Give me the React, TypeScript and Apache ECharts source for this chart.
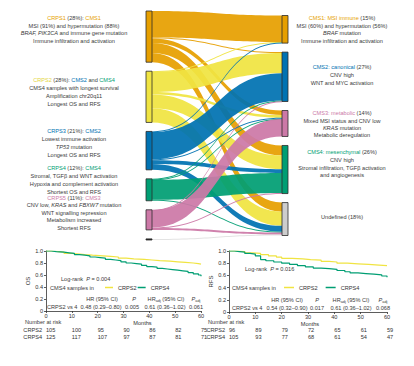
import React, { useEffect, useRef } from "react";
import * as echarts from "echarts";

// ---------- palette ----------
const C = {
  orange: "#E69F00",
  yellow: "#F0E442",
  yellowText: "#E3D53E",
  blue: "#0072B2",
  green: "#009E73",
  pink: "#CC79A7",
  grey: "#CDCDCD",
  dark: "#333333",
};
const FONT = "'Liberation Sans', Arial, Helvetica, sans-serif";
const FS = 5.6;
const TXT = "#3a3a3a";

// ---------- sankey data ----------
const crpsNames = ["CRPS1", "CRPS2", "CRPS3", "CRPS4", "CRPS5", "NA"];
const crpsColors = [C.orange, C.yellow, C.blue, C.green, C.pink, "#222222"];
const cmsNames = ["CMS1", "CMS2", "CMS3", "CMS4", "Undefined"];
const cmsColors = [C.orange, C.blue, C.pink, C.green, C.grey];
// % of samples flowing from each CRPS to CMS1, CMS2, CMS3, CMS4, Undefined
const flowCRPS1 = [14.5, 0.5, 2.5, 5.5, 5.0];
const flowCRPS2 = [0.3, 11.0, 1.5, 7.5, 7.7];
const flowCRPS3 = [0.3, 15.0, 0.5, 2.0, 3.2];
const flowCRPS4 = [0, 0.3, 0.2, 11.0, 0.5];
const flowCRPS5 = [0, 0.2, 9.5, 0.3, 1.0];
const flowNA = [0, 0, 0, 0, 0.6];

// ---------- survival data ----------
const osCRPS2 = [[0,1],[2,0.99],[5,0.98],[7,0.96],[10,0.95],[13,0.94],[15,0.93],[18,0.92],[22,0.91],[25,0.9],[28,0.88],[31,0.87],[34,0.86],[38,0.85],[41,0.84],[44,0.83],[48,0.82],[51,0.81],[54,0.8],[57,0.79],[59,0.78],[60,0.77]];
const osCRPS4 = [[0,1],[2,0.99],[4,0.98],[7,0.97],[9,0.96],[11,0.94],[13,0.93],[15,0.92],[17,0.9],[19,0.89],[21,0.88],[23,0.86],[25,0.85],[27,0.84],[29,0.82],[31,0.8],[33,0.79],[35,0.78],[37,0.76],[39,0.74],[41,0.73],[43,0.71],[45,0.7],[47,0.69],[49,0.68],[51,0.67],[53,0.66],[55,0.64],[57,0.62],[59,0.6],[60,0.58]];
const rfsCRPS2 = [[0,1],[3,0.99],[6,0.97],[9,0.96],[12,0.94],[15,0.92],[18,0.9],[20,0.88],[24,0.87],[28,0.86],[31,0.85],[35,0.83],[38,0.82],[41,0.8],[45,0.79],[49,0.78],[53,0.77],[57,0.76],[60,0.75]];
const rfsCRPS4 = [[0,1],[2,0.99],[4,0.98],[6,0.96],[8,0.95],[10,0.92],[12,0.86],[14,0.84],[17,0.82],[20,0.8],[23,0.78],[26,0.76],[29,0.74],[32,0.72],[35,0.71],[38,0.7],[41,0.68],[44,0.66],[46,0.64],[49,0.63],[52,0.62],[55,0.61],[58,0.59],[60,0.57]];

const riskOS_CRPS2 = [105, 100, 95, 90, 86, 82, 75];
const riskOS_CRPS4 = [125, 117, 107, 97, 87, 81, 71];
const riskRFS_CRPS2 = [96, 89, 79, 72, 65, 61, 59];
const riskRFS_CRPS4 = [105, 93, 77, 68, 61, 54, 47];

const hrRowOS = ["CRPS2 vs 4", "0.48 (0.29–0.80)", "0.005", "0.61 (0.36–1.02)", "0.061"];
const hrRowRFS = ["CRPS2 vs 4", "0.54 (0.32–0.90)", "0.017", "0.61 (0.36–1.02)", "0.068"];
const logrankOS = "0.004";
const logrankRFS = "0.016";

// ---------- sankey build ----------
const SK_TOP = 11, SK_H = 229, SK_LEFT = 146, SK_W = 142, GAP = 9;
const flows = [flowCRPS1, flowCRPS2, flowCRPS3, flowCRPS4, flowCRPS5, flowNA];
const sum = (a: number[]) => a.reduce((s, v) => s + v, 0);
const leftTotals = flows.map((r) => sum(r));
const rightTotals = cmsNames.map((_, j) => sum(flows.map((r) => r[j])));
const total = sum(leftTotals);
const ky = (SK_H - (crpsNames.length - 1) * GAP) / total;
const rightH = total * ky + (cmsNames.length - 1) * GAP;
let acc = (SK_H - rightH) / 2;
const rightLocalY = rightTotals.map((v) => {
  const y = acc;
  acc += v * ky + GAP;
  return y / SK_H;
});

const sankeyNodes = [
  ...crpsNames.map((n, i) => ({ name: n, itemStyle: { color: crpsColors[i] } })),
  ...cmsNames.map((n, i) => ({ name: n, localY: rightLocalY[i], itemStyle: { color: cmsColors[i] } })),
];
const sankeyLinks: any[] = [];
flows.forEach((row, i) => {
  row.forEach((v, j) => {
    if (v > 0) {
      sankeyLinks.push({
        source: crpsNames[i],
        target: cmsNames[j],
        value: v,
        lineStyle: i === 5 ? { color: "#d0d0d0", opacity: 0.6 } : { color: crpsColors[i], opacity: 0.93 },
      });
    }
  });
});

// ---------- text helpers ----------
const tok = (fill: string, extra: any = {}) => ({ fill, fontSize: FS, fontFamily: FONT, ...extra });
const rich = {
  o: tok(C.orange),
  y: tok(C.yellowText),
  b: tok(C.blue),
  g: tok(C.green),
  p: tok(C.pink),
  i: tok(TXT, { fontStyle: "italic" }),
  s: tok(TXT, { fontSize: 3.8, verticalAlign: "bottom", lineHeight: 7 }),
};
const txt = (x: number, y: number, text: string, align: string = "center") => ({
  type: "text",
  x,
  y,
  silent: true,
  style: {
    text,
    fill: TXT,
    fontSize: FS,
    fontFamily: FONT,
    align,
    textAlign: align,
    verticalAlign: "middle",
    textVerticalAlign: "middle",
    rich,
  },
});

const LX = 74;
const RX = 342;
const annotations = [
  // left: CRPS
  txt(LX, 18, "{o|CRPS1} (28%): {o|CMS1}"),
  txt(LX, 26, "MSI (91%) and hypermutation (88%)"),
  txt(LX, 33, "{i|BRAF, PIK3CA} and immune gene mutation"),
  txt(LX, 41, "Immune infiltration and activation"),
  txt(LX, 80, "{y|CRPS2} (28%): {b|CMS2} and {g|CMS4}"),
  txt(LX, 88, "CMS4 samples with longest survival"),
  txt(LX, 96, "Amplification chr20q11"),
  txt(LX, 104, "Longest OS and RFS"),
  txt(LX, 131, "{b|CRPS3} (21%): {b|CMS2}"),
  txt(LX, 139, "Lowest immune activation"),
  txt(LX, 147, "{i|TP53} mutation"),
  txt(LX, 155, "Longest OS and RFS"),
  txt(LX, 168, "{g|CRPS4} (12%): {g|CMS4}"),
  txt(LX, 176, "Stromal, TGFβ and WNT activation"),
  txt(LX, 184, "Hypoxia and complement activation"),
  txt(LX, 192, "Shortest OS and RFS"),
  txt(LX, 198, "{p|CRPS5} (11%): {p|CMS3}"),
  txt(LX, 205, "CNV low, {i|KRAS} and {i|FBXW7} mutation"),
  txt(LX, 213, "WNT signalling repression"),
  txt(LX, 220, "Metabolism increased"),
  txt(LX, 228, "Shortest RFS"),
  // right: CMS
  txt(RX, 18, "{o|CMS1: MSI immune} (15%)"),
  txt(RX, 26, "MSI (60%) and hypermutation (56%)"),
  txt(RX, 33, "{i|BRAF} mutation"),
  txt(RX, 41, "Immune infiltration and activation"),
  txt(RX, 67, "{b|CMS2: canonical} (27%)"),
  txt(RX, 75, "CNV high"),
  txt(RX, 83, "WNT and MYC activation"),
  txt(RX, 113, "{p|CMS3: metabolic} (14%)"),
  txt(RX, 121, "Mixed MSI status and CNV low"),
  txt(RX, 128, "{i|KRAS} mutation"),
  txt(RX, 135, "Metabolic deregulation"),
  txt(RX, 152, "{g|CMS4: mesenchymal} (26%)"),
  txt(RX, 160, "CNV high"),
  txt(RX, 168, "Stromal infiltration, TGFβ activation"),
  txt(RX, 175, "and angiogenesis"),
  txt(RX, 217, "Undefined (18%)"),
  // KM OS
  txt(61, 279, "Log-rank  {i|P} = " + logrankOS, "left"),
  txt(50, 288, "CMS4 samples in", "left"),
  txt(102, 299, "HR (95% CI)"),
  txt(134, 299, "{i|P}"),
  txt(166, 299, "HR{s|adj} (95% CI)"),
  txt(196, 299, "{i|P}{s|adj}"),
  txt(47, 307, hrRowOS[0], "left"),
  txt(101, 307, hrRowOS[1]),
  txt(132, 307, hrRowOS[2]),
  txt(165, 307, hrRowOS[3]),
  txt(196, 307, hrRowOS[4]),
  txt(25, 322, "Number at risk", "left"),
  // KM RFS
  txt(245, 269, "Log-rank  {i|P} = " + logrankRFS, "left"),
  txt(232, 288, "CMS4 samples in", "left"),
  txt(287, 300, "HR (95% CI)"),
  txt(317, 300, "{i|P}"),
  txt(351, 300, "HR{s|adj} (95% CI)"),
  txt(383, 300, "{i|P}{s|adj}"),
  txt(232, 308, hrRowRFS[0], "left"),
  txt(287, 308, hrRowRFS[1]),
  txt(317, 308, hrRowRFS[2]),
  txt(351, 308, hrRowRFS[3]),
  txt(383, 308, hrRowRFS[4]),
  txt(208, 322, "Number at risk", "left"),
];

// ---------- axes ----------
const lblStyle = { fontSize: FS, color: "#333", fontFamily: FONT };
const lineAx = { show: true, lineStyle: { color: "#333", width: 0.8 } };
const tickAx = { show: true, length: 2, lineStyle: { color: "#333", width: 0.8 } };

const mainX = (grid: number, padLeft: number, gap: number) => ({
  gridIndex: grid,
  type: "value",
  position: "bottom",
  min: 0,
  max: 60,
  interval: 10,
  axisLine: lineAx,
  axisTick: tickAx,
  splitLine: { show: false },
  axisLabel: { ...lblStyle, margin: 2 },
  name: "Months",
  nameLocation: "middle",
  nameGap: gap,
  nameTextStyle: { ...lblStyle, padding: [0, 0, 0, padLeft] },
});
const riskX = (grid: number, offset: number, name: string, values: number[], nameGap: number) => ({
  gridIndex: grid,
  type: "value",
  position: "bottom",
  offset,
  min: 0,
  max: 60,
  interval: 10,
  axisLine: { show: false },
  axisTick: { show: false },
  splitLine: { show: false },
  axisLabel: {
    ...lblStyle,
    margin: 0,
    align: "left",
    verticalAlign: "middle",
    formatter: (v: number) => String(values[Math.round(v / 10)] ?? ""),
  },
  name,
  nameLocation: "start",
  nameGap,
  nameTextStyle: lblStyle,
});
const mainY = (grid: number, name: string, gap: number) => ({
  gridIndex: grid,
  type: "value",
  min: 0,
  max: 1,
  interval: 0.2,
  axisLine: lineAx,
  axisTick: tickAx,
  splitLine: { show: false },
  axisLabel: { ...lblStyle, margin: 3, formatter: (v: number) => (v === 0 ? "0" : v.toFixed(1)) },
  name,
  nameLocation: "middle",
  nameGap: gap,
  nameTextStyle: { ...lblStyle, fontSize: 6 },
});

const km = (name: string, data: number[][], color: string, xi: number, yi: number) => ({
  type: "line",
  name,
  xAxisIndex: xi,
  yAxisIndex: yi,
  data,
  step: "end",
  showSymbol: false,
  symbol: "none",
  silent: true,
  lineStyle: { color, width: 1.2 },
  itemStyle: { color },
});

const legendCfg = (left: number, gap: number, w: number) => ({
  data: ["CRPS2", "CRPS4"],
  left,
  top: 284.5,
  padding: 0,
  itemWidth: w,
  itemHeight: 1.5,
  itemGap: gap,
  icon: "rect",
  selectedMode: false,
  textStyle: lblStyle,
});

const option: any = {
  animation: false,
  backgroundColor: "#ffffff",
  grid: [
    { left: 46, top: 251, width: 155, height: 60 },
    { left: 229, top: 251, width: 158, height: 61 },
  ],
  xAxis: [
    mainX(0, 38, 8),
    riskX(0, 19, "CRPS2", riskOS_CRPS2, 4),
    riskX(0, 26, "CRPS4", riskOS_CRPS4, 4),
    mainX(1, 4, 7),
    riskX(1, 18, "CRPS2", riskRFS_CRPS2, 2),
    riskX(1, 25, "CRPS4", riskRFS_CRPS4, 2),
  ],
  yAxis: [mainY(0, "OS", 14), mainY(1, "RFS", 14)],
  legend: [legendCfg(105, 1, 8), legendCfg(284, 8, 10)],
  series: [
    {
      type: "sankey",
      left: SK_LEFT,
      top: SK_TOP,
      width: SK_W,
      height: SK_H,
      nodeWidth: 6,
      nodeGap: GAP,
      layoutIterations: 0,
      nodeAlign: "justify",
      draggable: false,
      silent: true,
      label: { show: false },
      itemStyle: { borderColor: "#2b2b2b", borderWidth: 0.8 },
      lineStyle: { curveness: 0.5 },
      emphasis: { disabled: true },
      data: sankeyNodes,
      links: sankeyLinks,
    },
    km("CRPS2", osCRPS2, C.yellow, 0, 0),
    km("CRPS4", osCRPS4, C.green, 0, 0),
    km("CRPS2", rfsCRPS2, C.yellow, 3, 1),
    km("CRPS4", rfsCRPS4, C.green, 3, 1),
  ],
  graphic: annotations,
};

export default function App() {
  const ref = useRef<HTMLDivElement>(null);
  useEffect(() => {
    if (!ref.current) return;
    const chart = echarts.init(ref.current, null, { renderer: "svg" });
    chart.setOption(option);
    return () => chart.dispose();
  }, []);
  return (
    <div
      ref={ref}
      style={{ position: "absolute", left: 0, top: 0, width: 414, height: 366, background: "#fff" }}
    />
  );
}
